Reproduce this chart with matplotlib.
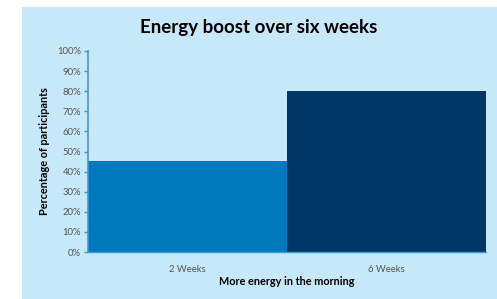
import matplotlib
matplotlib.use("Agg")
from matplotlib import pyplot as plt
from matplotlib.patches import Rectangle
from matplotlib.ticker import PercentFormatter

# chart data
categories = ['2 Weeks', '6 Weeks']
values = [45.5, 80.0]
bar_colors = ['#0078be', '#003764']

bg = '#c6e8f8'
axis_blue = '#3a9ad9'

plt.rcParams['font.family'] = ['Lato', 'DejaVu Sans']

fig = plt.figure(figsize=(4.97, 2.99), dpi=100)
fig.patch.set_facecolor('white')

# light blue panel behind everything
fig.patches.append(Rectangle((22 / 497, 0), 1 - 22 / 497, 1 - 7 / 299,
                             transform=fig.transFigure, facecolor=bg,
                             edgecolor='none', zorder=-5))

ax = fig.add_axes([88 / 497, 1 - 252 / 299, (486 - 88) / 497, (252 - 51) / 299])
ax.set_facecolor('none')

ax.bar(range(len(categories)), values, width=1.0, color=bar_colors, zorder=2)
ax.set_xlim(-0.5, 1.5)
ax.set_ylim(0, 100)
ax.set_yticks(range(0, 101, 10))
ax.yaxis.set_major_formatter(PercentFormatter(decimals=0))
ax.set_xticks(range(len(categories)))
ax.set_xticklabels(categories)

for side in ('top', 'right'):
    ax.spines[side].set_visible(False)
ax.spines['left'].set_color(axis_blue)
ax.spines['bottom'].set_color(axis_blue)
ax.spines['left'].set_linewidth(1.2)
ax.spines['bottom'].set_linewidth(1.0)

ax.tick_params(axis='y', colors=axis_blue, length=3, width=1, labelsize=6.8,
               labelcolor='#555555', pad=2)
ax.tick_params(axis='x', length=0, labelsize=6.8, labelcolor='#555555', pad=9)

ax.set_xlabel('More energy in the morning', fontsize=7.8, fontweight='bold',
              color='black', labelpad=2)
ax.set_ylabel('Percentage of participants', fontsize=7.8, fontweight='bold',
              color='black', labelpad=5)

fig.text(0.52, 1 - 28 / 299, 'Energy boost over six weeks', ha='center',
         va='center', fontsize=13.5, fontweight='bold', color='black')

fig.savefig('out.png', dpi=100)
